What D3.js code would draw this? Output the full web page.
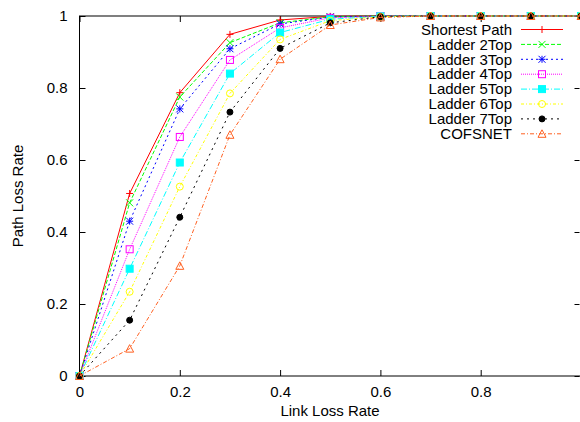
<html>
<head>
<title>Path Loss Rate</title>
<style>
  body { margin: 0; background: #fff; }
  text { font-family: "Liberation Sans", Arial, sans-serif; font-size: 15px; fill: #000; }
</style>
</head>
<body>
<script src="https://d3js.org/d3.v7.min.js"></script>
<script>
var w = 580;
var h = 422;

// data
var linkLoss = [0, 0.1, 0.2, 0.3, 0.4, 0.5, 0.6, 0.7, 0.8, 0.9, 1.0];
var shortestPath = [0, 0.507, 0.787, 0.949, 0.989, 0.999, 1, 1, 1, 1, 1];
var ladder2Top  = [0, 0.481, 0.775, 0.926, 0.981, 0.998, 1, 1, 1, 1, 1];
var ladder3Top  = [0, 0.430, 0.742, 0.909, 0.978, 0.997, 1, 1, 1, 1, 1];
var ladder4Top  = [0, 0.352, 0.664, 0.878, 0.967, 0.995, 0.999, 1, 1, 1, 1];
var ladder5Top  = [0, 0.298, 0.593, 0.840, 0.954, 0.991, 0.999, 1, 1, 1, 1];
var ladder6Top  = [0, 0.234, 0.526, 0.785, 0.935, 0.987, 0.998, 1, 1, 1, 1];
var ladder7Top  = [0, 0.155, 0.441, 0.733, 0.910, 0.981, 0.998, 1, 1, 1, 1];
var cofsnet     = [0, 0.076, 0.306, 0.670, 0.880, 0.975, 0.996, 1, 1, 1, 1];

var seriesNames = ["Shortest Path", "Ladder 2Top", "Ladder 3Top", "Ladder 4Top",
                   "Ladder 5Top", "Ladder 6Top", "Ladder 7Top", "COFSNET"];
var seriesValues = [shortestPath, ladder2Top, ladder3Top, ladder4Top,
                    ladder5Top, ladder6Top, ladder7Top, cofsnet];
// the "1" label of the x axis falls outside the cropped picture
var xTicks = [0, 0.2, 0.4, 0.6, 0.8];
var yTicks = [0, 0.2, 0.4, 0.6, 0.8, 1];

// gnuplot-ish styles
var colors = ["#ff0000", "#00ff00", "#0000ff", "#ff00ff", "#00ffff", "#ffff00", "#000000", "#ff6020"];
var dashes = ["none", "4,2", "2,3", "1,1", "6,2,1,2", "3,2,1,2", "2,4", "4,2,1,2"];
var markers = ["plus", "cross", "star", "sqOpen", "sqFill", "circOpen", "circFill", "triOpen"];

// the right border sits just past the picture edge
var x = d3.scaleLinear().domain([0, 1]).range([79.5, 581]);
var y = d3.scaleLinear().domain([0, 1]).range([376, 16]);

var svg = d3.select('body')
            .append('svg')
            .attr('width', w)
            .attr('height', h);

// ticks on all four sides, pointing inward
var axB = svg.append('g').attr('transform', 'translate(0,' + y(0) + ')')
    .call(d3.axisBottom(x).tickValues(xTicks).tickSizeInner(-6).tickSizeOuter(0)
          .tickPadding(10).tickFormat(d3.format('')));
var axT = svg.append('g').attr('transform', 'translate(0,' + y(1) + ')')
    .call(d3.axisTop(x).tickValues(xTicks).tickSizeInner(-6).tickSizeOuter(0).tickFormat(''));
var axL = svg.append('g').attr('transform', 'translate(' + x(0) + ',0)')
    .call(d3.axisLeft(y).tickValues(yTicks).tickSizeInner(-6).tickSizeOuter(0)
          .tickPadding(12).tickFormat(d3.format('')));
var axR = svg.append('g').attr('transform', 'translate(' + (x(1) - 1.5) + ',0)')
    .call(d3.axisRight(y).tickValues(yTicks).tickSizeInner(-5).tickSizeOuter(0).tickFormat(''));

[axB, axT, axL, axR].forEach(function(a) {
    a.select('.domain').remove();
    a.selectAll('line').attr('stroke', '#000');
    a.selectAll('text').style('font-size', '15px').attr('font-family', null);
});

svg.append('rect')
    .attr('x', x(0)).attr('y', y(1))
    .attr('width', x(1) - x(0)).attr('height', y(0) - y(1))
    .attr('fill', 'none').attr('stroke', '#000').attr('stroke-width', 1);

// axis titles
svg.append('text')
    .attr('x', 330).attr('y', 416)
    .attr('text-anchor', 'middle')
    .text('Link Loss Rate');
svg.append('text')
    .attr('transform', 'translate(23,' + (y(0) + y(1)) / 2 + ') rotate(-90)')
    .attr('text-anchor', 'middle')
    .text('Path Loss Rate');

function drawMarker(g, type, cx, cy, col) {
    var s = 3.5;
    if (type == 'plus' || type == 'star') {
        g.append('path').attr('d', 'M' + (cx - s) + ',' + cy + 'H' + (cx + s) + 'M' + cx + ',' + (cy - s) + 'V' + (cy + s))
            .attr('stroke', col).attr('fill', 'none');
    }
    if (type == 'cross' || type == 'star') {
        g.append('path').attr('d', 'M' + (cx - s) + ',' + (cy - s) + 'L' + (cx + s) + ',' + (cy + s) +
                              'M' + (cx - s) + ',' + (cy + s) + 'L' + (cx + s) + ',' + (cy - s))
            .attr('stroke', col).attr('fill', 'none');
    }
    if (type == 'sqOpen' || type == 'sqFill') {
        g.append('rect').attr('x', cx - s).attr('y', cy - s).attr('width', 2 * s).attr('height', 2 * s)
            .attr('stroke', col).attr('fill', type == 'sqFill' ? col : 'none');
    }
    if (type == 'circOpen' || type == 'circFill') {
        g.append('circle').attr('cx', cx).attr('cy', cy).attr('r', type == 'circFill' ? 3 : s)
            .attr('stroke', col).attr('fill', type == 'circFill' ? col : 'none');
    }
    if (type == 'triOpen') {
        g.append('path').attr('d', 'M' + cx + ',' + (cy - s - 0.5) + 'L' + (cx + s + 0.5) + ',' + (cy + s) +
                              'L' + (cx - s - 0.5) + ',' + (cy + s) + 'Z')
            .attr('stroke', col).attr('fill', 'none');
    }
}

var line = d3.line()
    .x(function(d, i) { return x(linkLoss[i]); })
    .y(function(d) { return y(d); });

var plots = svg.append('g');
seriesValues.forEach(function(vals, k) {
    var g = plots.append('g');
    g.append('path')
        .attr('d', line(vals))
        .attr('fill', 'none')
        .attr('stroke', colors[k])
        .attr('stroke-width', 1)
        .attr('stroke-dasharray', dashes[k]);
    vals.forEach(function(v, i) {
        drawMarker(g, markers[k], x(linkLoss[i]), y(v), colors[k]);
    });
});

// legend
var legend = svg.append('g');
seriesNames.forEach(function(name, k) {
    var ly = 29.5 + k * 14.9;
    legend.append('text')
        .attr('x', 512).attr('y', ly).attr('dy', '0.35em')
        .attr('text-anchor', 'end')
        .text(name);
    legend.append('line')
        .attr('x1', 521).attr('x2', 563).attr('y1', ly).attr('y2', ly)
        .attr('stroke', colors[k]).attr('stroke-dasharray', dashes[k]);
    drawMarker(legend, markers[k], 542, ly, colors[k]);
});
</script>
</body>
</html>
